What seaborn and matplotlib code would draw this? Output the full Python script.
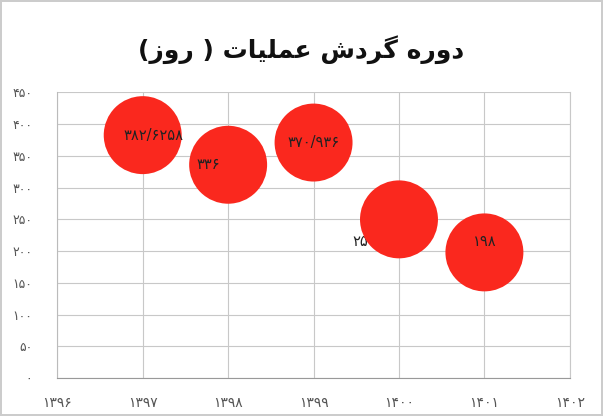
import seaborn as sns
import matplotlib.pyplot as plt
import pandas as pd

# data
years = [1397, 1398, 1399, 1400, 1401]
values = [382.6258, 336, 370.936, 250, 198]
value_labels = ["382.6258", "336", "370.936", "250", "198"]

# title "دوره گردش عملیات ( روز)" in visual order with presentation forms
title_visual = ("(\uFEAF\uFEED\uFEAD ) "
                "\uFE95\uFE8E\uFBFF\uFEE0\uFEE4\uFECB "
                "\uFEB5\uFEA9\uFEAE\uFB94 "
                "\uFEE9\uFEAD\uFEED\uFEA9")

FA_DIGITS = str.maketrans("0123456789.", "۰۱۲۳۴۵۶۷۸۹/")


def fa(s):
    return str(s).translate(FA_DIGITS)


sns.set_style("white")
plt.rcParams["font.family"] = ["DejaVu Sans"]

df = pd.DataFrame({"year": years, "value": values})

fig = plt.figure(figsize=(6.03, 4.16), dpi=100)
ax = fig.add_axes([0.095, 0.091, 0.85, 0.687])

# label offsets (points), the 1400 label sits behind its bubble
offsets = [(8, 0), (-14, 0), (0, 0), (-25, -16), (0, 8)]
zorders = [5, 5, 5, 1, 5]
for (x, y, lab, off, z) in zip(years, values, value_labels, offsets, zorders):
    ax.annotate(fa(lab), (x, y), xytext=off, textcoords="offset points",
                ha="center", va="center", fontsize=10.5, color="#222222",
                zorder=z)

sns.scatterplot(data=df, x="year", y="value", s=3150, color="#FA281E",
                edgecolor="none", ax=ax, zorder=3, legend=False)

ax.set_xlim(1396, 1402)
ax.set_ylim(0, 450)
ax.set_xticks(range(1396, 1403))
ax.set_yticks(range(0, 451, 50))
ax.set_xticklabels([fa(v) for v in range(1396, 1403)], fontsize=10, color="#555555")
ax.set_yticklabels([fa(v) for v in range(0, 451, 50)], fontsize=9, color="#555555")
ax.grid(True, color="#c8c8c8", linewidth=0.8)
ax.set_axisbelow(True)
ax.spines["top"].set_visible(False)
ax.spines["right"].set_color("#c8c8c8")
ax.spines["left"].set_color("#bbbbbb")
ax.spines["bottom"].set_color("#999999")
ax.tick_params(axis="y", length=4, color="#bbbbbb", pad=14)
ax.tick_params(axis="x", length=4, color="#bbbbbb", pad=9)
ax.set_xlabel("")
ax.set_ylabel("")

fig.text(0.5, 0.88, title_visual, ha="center", va="center",
         fontsize=18, fontweight="bold", color="#111111")

fig.patch.set_edgecolor("#cccccc")
fig.patch.set_linewidth(1.5)

plt.savefig("out.png", dpi=100, edgecolor=fig.get_edgecolor())
plt.close()
